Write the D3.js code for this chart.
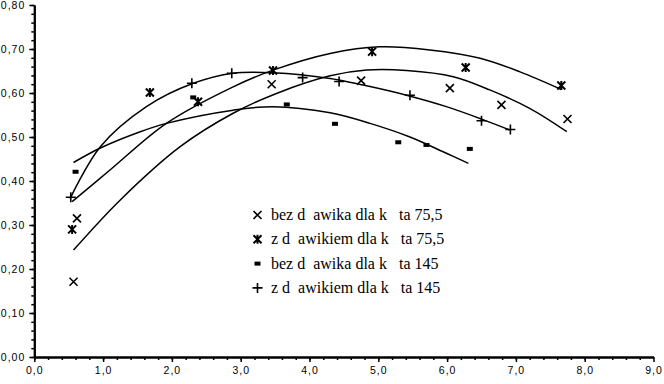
<!doctype html>
<html lang="pl">
<head>
    <meta charset="UTF-8">
    <title>wykres</title>
    <style>
        body { margin: 0; background: #fff; }
        #chart { display: block; }
        #chart .trend { fill: none; stroke: #000; stroke-width: 1.5; }
        #chart .axis text { font-family: "Liberation Sans", Arial, sans-serif; font-size: 10.5px; letter-spacing: 1px; fill: #000; }
        #chart .axis .domain { stroke: #000; stroke-width: 2; }
        #chart .axis line { stroke: #000; stroke-width: 1.5; }
        #chart text.leg { font-family: "Times New Roman", "Liberation Serif", "DejaVu Serif", "Noto Serif", serif; font-size: 16px; white-space: pre; fill: #000; }
    </style>
</head>
<body>
<svg id="chart" width="664" height="384"></svg>

<script src="https://cdn.jsdelivr.net/npm/d3@7"></script>
<script>
    // punkty pomiarowe
    var s1X = [0.57, 0.62, 3.45, 4.75, 6.04, 6.79, 7.75]
    var s1Y = [0.171, 0.315, 0.620, 0.628, 0.611, 0.573, 0.541]
    var s2X = [0.55, 1.68, 2.38, 3.47, 4.91, 6.27, 7.66]
    var s2Y = [0.290, 0.601, 0.580, 0.651, 0.694, 0.658, 0.617]
    var s3X = [0.60, 2.31, 3.67, 4.37, 5.29, 5.70, 6.33]
    var s3Y = [0.421, 0.590, 0.574, 0.530, 0.488, 0.482, 0.473]
    var s4X = [0.53, 2.29, 2.87, 3.90, 4.43, 5.46, 6.50, 6.92]
    var s4Y = [0.363, 0.622, 0.645, 0.635, 0.626, 0.595, 0.537, 0.517]

    // linie trendu
    var t1X = [0.57, 1.25, 2.12, 2.89, 3.52, 4.30, 4.83, 5.41, 6.09, 6.62, 7.20, 7.74]
    var t1Y = [0.243, 0.357, 0.478, 0.554, 0.599, 0.639, 0.652, 0.651, 0.637, 0.607, 0.565, 0.512]
    var t2X = [0.55, 1.10, 1.92, 2.89, 3.47, 4.30, 5.02, 5.75, 6.48, 7.06, 7.66]
    var t2Y = [0.353, 0.425, 0.531, 0.614, 0.652, 0.690, 0.705, 0.698, 0.679, 0.648, 0.608]
    var t3X = [0.57, 0.96, 1.54, 1.92, 2.89, 3.47, 4.30, 4.88, 5.46, 5.99, 6.31]
    var t3Y = [0.442, 0.475, 0.512, 0.531, 0.561, 0.569, 0.555, 0.531, 0.500, 0.463, 0.440]
    var t4X = [0.52, 0.96, 1.63, 2.31, 2.89, 3.47, 4.30, 4.78, 5.41, 5.99, 6.53, 6.91]
    var t4Y = [0.360, 0.478, 0.569, 0.622, 0.645, 0.646, 0.633, 0.618, 0.595, 0.569, 0.539, 0.516]

    var legendLabels = [
        'bez d  awika dla k   ta 75,5',
        'z d  awikiem dla k   ta 75,5',
        'bez d  awika dla k   ta 145',
        'z d  awikiem dla k   ta 145'
    ]
    var markerTypes = ['times', 'star', 'rect', 'plus']

    var xTickValues = [0, 1, 2, 3, 4, 5, 6, 7, 8, 9]
    var yTickValues = [0, 0.1, 0.2, 0.3, 0.4, 0.5, 0.6, 0.7, 0.8]

    var svg = d3.select('#chart')
    var xScale = d3.scaleLinear().domain([0, 9]).range([34.3, 653.5])
    var yScale = d3.scaleLinear().domain([0, 0.8]).range([357, 5])

    function comma(d, n) { return d.toFixed(n).replace('.', ',') }

    // osie - podzialki pomocnicze
    svg.append('g').attr('class', 'axis')
        .attr('transform', 'translate(0,357)')
        .call(d3.axisBottom(xScale).tickValues(d3.range(0, 45).map(function(i) { return i * 0.2 }))
            .tickSize(3).tickSizeOuter(0).tickFormat(''))
    svg.append('g').attr('class', 'axis')
        .attr('transform', 'translate(34.3,0)')
        .call(d3.axisLeft(yScale).tickValues(d3.range(0, 41).map(function(i) { return i * 0.02 }))
            .tickSize(3).tickSizeOuter(0).tickFormat(''))

    svg.append('g').attr('class', 'axis')
        .attr('transform', 'translate(0,357)')
        .call(d3.axisBottom(xScale).tickValues(xTickValues).tickSize(5).tickSizeOuter(0)
            .tickPadding(5).tickFormat(function(d) { return comma(d, 1) }))
    svg.append('g').attr('class', 'axis')
        .attr('transform', 'translate(34.3,0)')
        .call(d3.axisLeft(yScale).tickValues(yTickValues).tickSize(5).tickSizeOuter(0)
            .tickPadding(4).tickFormat(function(d) { return comma(d, 2) }))

    var line = d3.line()
        .x(function(d) { return xScale(d[0]) })
        .y(function(d) { return yScale(d[1]) })
        .curve(d3.curveCatmullRom.alpha(0.5))

    var trends = [[t1X, t1Y], [t2X, t2Y], [t3X, t3Y], [t4X, t4Y]]
    trends.forEach(function(t) {
        svg.append('path').attr('class', 'trend')
            .attr('d', line(d3.zip(t[0], t[1])))
    })

    function marker(g, type, cx, cy) {
        if (type === 'times') {
            g.append('path').attr('d', 'M' + (cx - 4) + ',' + (cy - 4) + 'L' + (cx + 4) + ',' + (cy + 4) +
                'M' + (cx - 4) + ',' + (cy + 4) + 'L' + (cx + 4) + ',' + (cy - 4))
                .attr('stroke', '#000').attr('stroke-width', 1.6)
        } else if (type === 'star') {
            g.append('path').attr('d', 'M' + (cx - 4) + ',' + (cy - 4) + 'L' + (cx + 4) + ',' + (cy + 4) +
                'M' + (cx - 4) + ',' + (cy + 4) + 'L' + (cx + 4) + ',' + (cy - 4) +
                'M' + cx + ',' + (cy - 4.5) + 'L' + cx + ',' + (cy + 4.5))
                .attr('stroke', '#000').attr('stroke-width', 2)
        } else if (type === 'rect') {
            g.append('rect').attr('x', cx - 3).attr('y', cy - 2).attr('width', 6).attr('height', 4)
                .attr('fill', '#000')
        } else {
            g.append('path').attr('d', 'M' + (cx - 5) + ',' + cy + 'L' + (cx + 5) + ',' + cy +
                'M' + cx + ',' + (cy - 5) + 'L' + cx + ',' + (cy + 5))
                .attr('stroke', '#000').attr('stroke-width', 1.6)
        }
    }

    var series = [[s1X, s1Y], [s2X, s2Y], [s3X, s3Y], [s4X, s4Y]]
    var pts = svg.append('g')
    series.forEach(function(s, i) {
        s[0].forEach(function(xv, j) {
            marker(pts, markerTypes[i], xScale(xv), yScale(s[1][j]))
        })
    })

    // legenda
    var legend = svg.append('g')
    legendLabels.forEach(function(txt, i) {
        var ly = 215 + i * 24.3
        marker(legend, markerTypes[i], 257.5, ly)
        legend.append('text').attr('class', 'leg').attr('x', 271).attr('y', ly + 5).text(txt)
    })
</script>
</body>
</html>
